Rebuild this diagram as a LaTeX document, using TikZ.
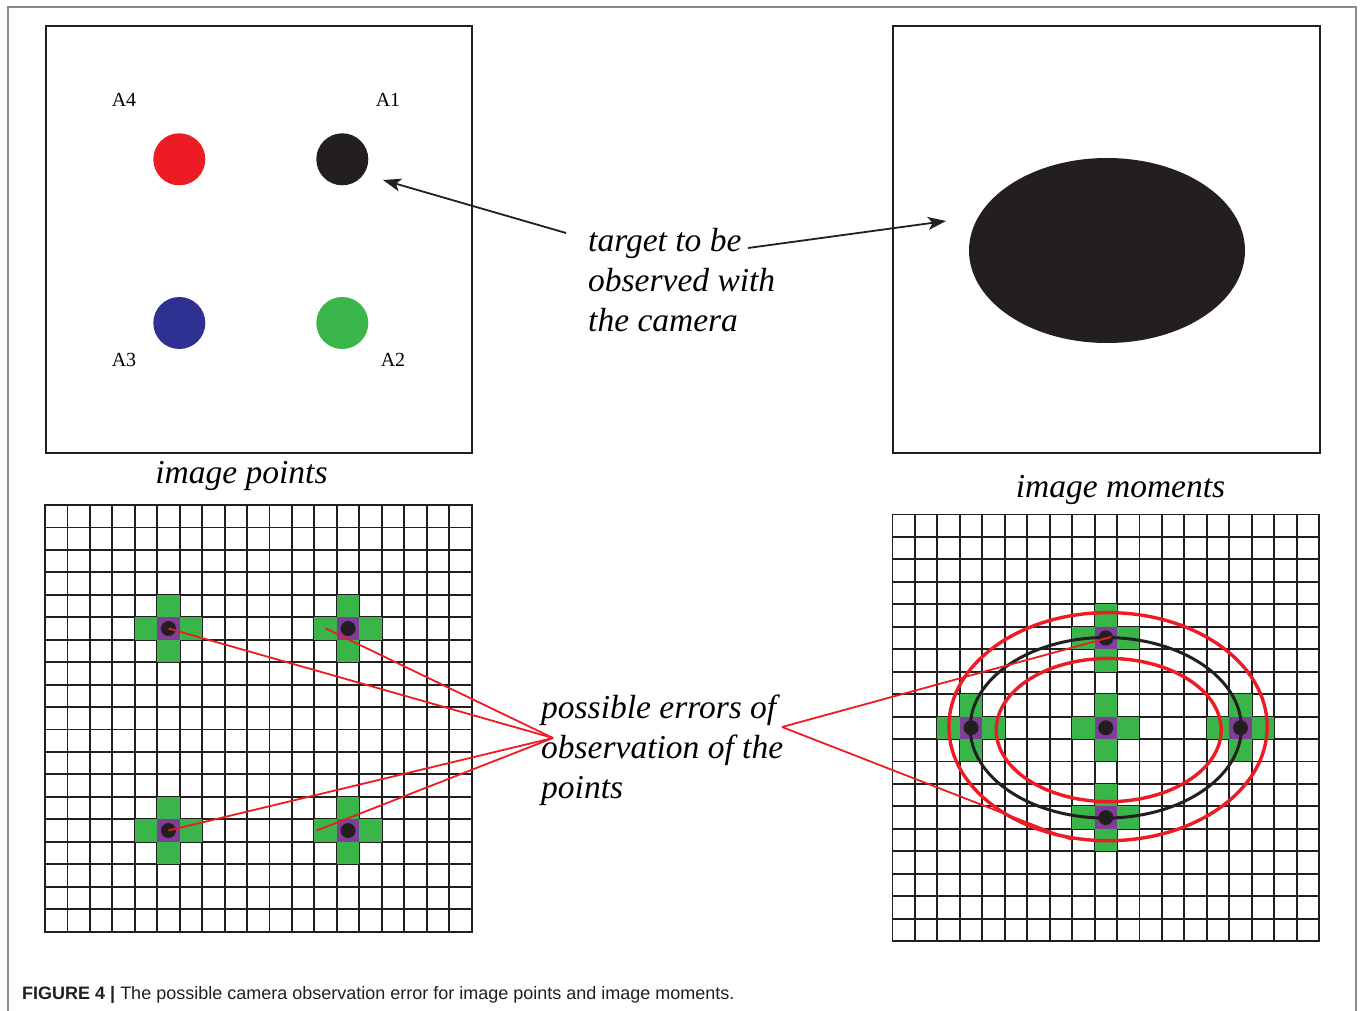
\documentclass[tikz,border=0pt]{standalone}
\usepackage{fontspec}
\setmainfont{Liberation Serif}
\newfontfamily\capfont{Liberation Sans}
\usetikzlibrary{arrows.meta,shapes.geometric}
\definecolor{dred}{HTML}{ED1C24}
\definecolor{dblack}{HTML}{231F20}
\definecolor{dblue}{HTML}{2E3192}
\definecolor{dgreen}{HTML}{39B54A}
\definecolor{dpurple}{HTML}{7F3F98}
\definecolor{framegray}{HTML}{8A8A8A}
\tikzset{
 lbl/.style={font=\fontsize{33.5}{40}\selectfont\itshape, inner sep=0, anchor=base west},
 sublbl/.style={font=\fontsize{33.5}{40}\selectfont\itshape, inner sep=0, anchor=base},
 alab/.style={font=\fontsize{20}{24}\selectfont, inner sep=0, anchor=base},
 bigdot/.style={circle, inner sep=0, minimum size=52pt},
 pix/.style={circle, fill=dblack, inner sep=0, minimum size=15pt},
 boxline/.style={draw=dblack, line width=2.4pt, inner sep=0, anchor=north west},
 gridline/.style={dblack, line width=1.9pt, line cap=rect},
 redline/.style={dred, line width=1.8pt},
 pointer/.style={dblack, line width=1.8pt, -{Stealth[length=18pt,width=13pt,inset=4.5pt]}},
}
\newcommand\xcross[2]{%
 \fill[dgreen] (#1-1,#2) rectangle (#1+2,#2+1);
 \fill[dgreen] (#1,#2-1) rectangle (#1+1,#2+2);
 \fill[dpurple] (#1,#2) rectangle (#1+1,#2+1);
}
\newcommand\pixgrid{%
 \foreach \i in {0,...,19} {
  \draw[gridline] (\i,0) -- (\i,19);
  \draw[gridline] (0,\i) -- (19,\i);
 }
}
\begin{document}
\begin{tikzpicture}[x=1pt,y=-1pt]
\useasboundingbox (0,0) rectangle (1362,1011);
\fill[white] (0,0) rectangle (1362,1011);
\draw[framegray, line width=1.3pt] (8,1011) -- (8,7) -- (1356,7) -- (1356,1011);

% top boxes
\node[boxline, minimum width=426pt, minimum height=427pt] (boxL) at (45,25) {};
\node[boxline, minimum width=427pt, minimum height=427pt] (boxR) at (892,25) {};

% image points targets
\node[bigdot, fill=dred] (d4) at (179.3,159.3) {};
\node[bigdot, fill=dblack] (d1) at (342.3,159.3) {};
\node[bigdot, fill=dblue] (d3) at (179.3,323) {};
\node[bigdot, fill=dgreen] (d2) at (342.3,323) {};
\node[alab] (A4) at (124,106.5) {A4};
\node[alab] (A1) at (388,106.5) {A1};
\node[alab] (A3) at (124,366) {A3};
\node[alab] (A2) at (393,366) {A2};

% image moments target
\node[ellipse, fill=dblack, inner sep=0, minimum width=276pt, minimum height=185pt] (blob) at (1107,250.5) {};

% central text and arrows
\node[lbl] (tg1) at (588,251) {target to be};
\node[lbl] (tg2) at (588,291) {observed with};
\node[lbl] (tg3) at (588,331) {the camera};
\coordinate (a1s) at (566,233);
\coordinate (a1e) at (383,180);
\coordinate (a2s) at (748,248);
\coordinate (a2e) at (946,221);
\draw[pointer] (a1s) -- (a1e);
\draw[pointer] (a2s) -- (a2e);

\node[sublbl] (capL) at (241.5,483) {image points};
\node[sublbl] (capR) at (1120.5,497) {image moments};

% left pixel grid
\begin{scope}[shift={(45,505)}, x=22.45pt, y=-22.45pt]
 \pixgrid
 \xcross{5}{5} \xcross{13}{5} \xcross{5}{14} \xcross{13}{14}
 \node[pix] (L1) at (5.5,5.5) {};
 \node[pix] (L2) at (13.5,5.5) {};
 \node[pix] (L3) at (5.5,14.5) {};
 \node[pix] (L4) at (13.5,14.5) {};
 \coordinate (L2s) at (12.5,5.5);
 \coordinate (L4s) at (12.1,14.5);
\end{scope}

% right pixel grid
\begin{scope}[shift={(892.5,514.5)}, x=22.45pt, y=-22.45pt]
 \pixgrid
 \xcross{9}{9} \xcross{9}{5} \xcross{9}{13} \xcross{3}{9} \xcross{15}{9}
 \draw[dred, line width=3.4pt] (9.6,9.45) ellipse [x radius=7.09, y radius=5.08];
 \draw[dred, line width=3.4pt] (9.63,9.6) ellipse [x radius=5.01, y radius=3.19];
 \draw[dblack, line width=3pt] (9.5,9.5) ellipse [x radius=6.04, y radius=4.02];
 \node[pix] (Rc) at (9.5,9.5) {};
 \node[pix] (Rt) at (9.5,5.5) {};
 \node[pix] (Rb) at (9.5,13.5) {};
 \node[pix] (Rl) at (3.5,9.5) {};
 \node[pix] (Rr) at (15.5,9.5) {};
 \coordinate (Rte) at (9.75,5.45);
 \coordinate (Rbe) at (8.0,14.5);
\end{scope}

% error text and red connectors
\node[lbl] (e1) at (541,718) {possible errors of};
\node[lbl] (e2) at (541,758) {observation of the};
\node[lbl] (e3) at (541,798) {points};
\coordinate (apexL) at (553,738);
\coordinate (apexR) at (782,727);
\draw[redline] (L1.center) -- (apexL);
\draw[redline] (L2s) -- (apexL);
\draw[redline] (L3.center) -- (apexL);
\draw[redline] (L4s) -- (apexL);
\draw[redline] (apexR) -- (Rte);
\draw[redline] (apexR) -- (Rbe);

% caption
\node[anchor=base west, inner sep=0, text=dblack, font=\capfont\fontsize{18}{22}\selectfont] (cap) at (22,999) {\textbf{FIGURE 4 |} The possible camera observation error for image points and image moments.};
\end{tikzpicture}
\end{document}
